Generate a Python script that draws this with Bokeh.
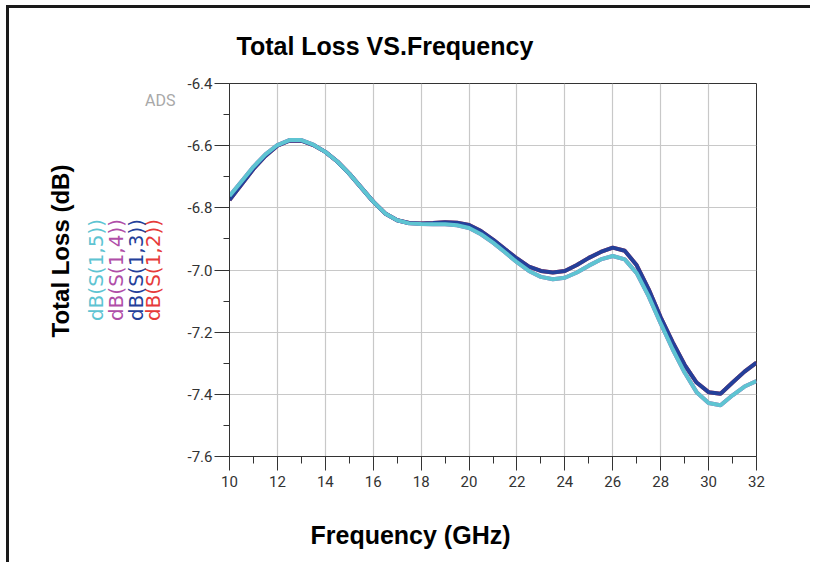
from bokeh.plotting import figure
from bokeh.models import (Range1d, FixedTicker, NumeralTickFormatter, LinearAxis, Title,
                          CustomJSTickFormatter)
from bokeh.embed import file_html
from bokeh.resources import INLINE

freq = [10.0, 10.5, 11.0, 11.5, 12.0, 12.5, 13.0, 13.5, 14.0, 14.5, 15.0, 15.5,
        16.0, 16.5, 17.0, 17.5, 18.0, 18.5, 19.0, 19.5, 20.0, 20.5, 21.0, 21.5,
        22.0, 22.5, 23.0, 23.5, 24.0, 24.5, 25.0, 25.5, 26.0, 26.5, 27.0, 27.5,
        28.0, 28.5, 29.0, 29.5, 30.0, 30.5, 31.0, 31.5, 32.0]

s15 = [-6.762, -6.715, -6.668, -6.628, -6.598, -6.582, -6.582, -6.597, -6.620, -6.651,
       -6.690, -6.735, -6.780, -6.818, -6.840, -6.850, -6.852, -6.853, -6.853, -6.856,
       -6.865, -6.885, -6.912, -6.943, -6.975, -7.003, -7.022, -7.030, -7.025, -7.008,
       -6.986, -6.966, -6.955, -6.966, -7.010, -7.085, -7.172, -7.255, -7.330, -7.393,
       -7.428, -7.435, -7.403, -7.375, -7.357]
s14 = list(s15)
s13 = [-6.775, -6.725, -6.675, -6.633, -6.600, -6.584, -6.584, -6.598, -6.620, -6.651,
       -6.690, -6.735, -6.780, -6.818, -6.840, -6.849, -6.850, -6.849, -6.846, -6.848,
       -6.855, -6.875, -6.902, -6.933, -6.963, -6.989, -7.003, -7.008, -7.003, -6.984,
       -6.961, -6.942, -6.928, -6.938, -6.985, -7.062, -7.152, -7.232, -7.305, -7.362,
       -7.393, -7.398, -7.362, -7.327, -7.298]
s12 = list(s13)

x_ticks = [10, 12, 14, 16, 18, 20, 22, 24, 26, 28, 30, 32]
x_minor = [11, 13, 15, 17, 19, 21, 23, 25, 27, 29, 31]
y_ticks = [-7.6, -7.4, -7.2, -7.0, -6.8, -6.6, -6.4]
y_minor = [-7.5, -7.3, -7.1, -6.9, -6.7, -6.5]

series_names = ["dB(S(1,5))", "dB(S(1,4))", "dB(S(1,3))", "dB(S(1,2))"]
series_colors = ["#5ec4d2", "#b04ea8", "#24409a", "#e63a3a"]

title_text = "Total Loss VS.Frequency"
xlabel_text = "Frequency (GHz)"
ylabel_text = "Total Loss (dB)"
watermark_text = "ADS"
watermark_pos = [-6.455]

W, H = 804, 557
p = figure(width=W, height=H, output_backend="svg", toolbar_location=None,
           x_range=Range1d(10, 32), y_range=Range1d(-7.6, -6.4),
           min_border_left=220, min_border_right=57, min_border_top=75, min_border_bottom=109)
p.styles = {"border-top": "3px solid #1a1a1a", "border-left": "3px solid #1a1a1a",
            "margin-left": "6px", "margin-top": "5px"}

p.background_fill_color = "white"
p.border_fill_color = "white"
p.outline_line_color = "#333333"
p.outline_line_width = 1

tick_font = "Roboto"
for ax in (p.xaxis[0], p.yaxis[0]):
    ax.axis_line_color = "#333333"
    ax.major_tick_line_color = "#333333"
    ax.minor_tick_line_color = "#333333"
    ax.major_label_text_font = tick_font
    ax.major_label_text_font_size = "15px"
    ax.major_label_text_color = "#333333"
    ax.minor_tick_in = 0
    ax.major_tick_in = 0

p.xaxis.ticker = FixedTicker(ticks=x_ticks, minor_ticks=x_minor)
p.yaxis.ticker = FixedTicker(ticks=y_ticks, minor_ticks=y_minor)
p.yaxis.formatter = NumeralTickFormatter(format="0.0")
p.xaxis.major_tick_out = 14
p.xaxis.minor_tick_out = 7
p.yaxis.major_tick_out = 15
p.yaxis.minor_tick_out = 6
p.xaxis.major_label_standoff = 5
p.yaxis.major_label_standoff = 2

p.grid.grid_line_color = "#c8c8c8"
p.grid.grid_line_width = 1.2

# hidden series first, visible on top
p.line(freq, s12, line_color=series_colors[3], line_width=4)
p.line(freq, s14, line_color=series_colors[1], line_width=4)
p.line(freq, s13, line_color=series_colors[2], line_width=4)
p.line(freq, s15, line_color=series_colors[0], line_width=4)


def bare_axis(ticks, label, color, label_standoff):
    ax = LinearAxis(ticker=FixedTicker(ticks=ticks, minor_ticks=[]),
                    axis_line_color=None, major_tick_line_color=None,
                    minor_tick_line_color=None, major_tick_out=0, minor_tick_out=0,
                    major_tick_in=0, minor_tick_in=0)
    ax.axis_label = label
    ax.axis_label_text_color = color
    ax.axis_label_text_font = "DejaVu Sans"
    ax.axis_label_text_font_size = "20px"
    ax.axis_label_text_font_style = "normal"
    ax.axis_label_standoff = label_standoff
    return ax


# series labels, nearest the axis first: (1,2), (1,3), (1,4), (1,5)
a1 = bare_axis(watermark_pos, series_names[3], series_colors[3], -23)
a1.formatter = CustomJSTickFormatter(code="return '%s';" % watermark_text)
a1.major_label_text_font = tick_font
a1.major_label_text_font_size = "16px"
a1.major_label_text_color = "#a8a8a8"
a1.major_label_standoff = 9
p.add_layout(a1, "left")

a2 = bare_axis([], series_names[2], series_colors[2], -9)
a2.major_label_standoff = 0
p.add_layout(a2, "left")
a3 = bare_axis([], series_names[1], series_colors[1], -7)
a3.major_label_standoff = 0
p.add_layout(a3, "left")
a4 = bare_axis([], series_names[0], series_colors[0], -7)
a4.major_label_standoff = 0
p.add_layout(a4, "left")

p.add_layout(Title(text=ylabel_text, text_font="Liberation Sans", text_font_style="bold",
                   text_font_size="24px", text_color="black", align="left", offset=119,
                   vertical_align="middle", standoff=11), "left")

# main title
p.title.text = title_text
p.title.text_font = "Liberation Sans"
p.title.text_font_style = "bold"
p.title.text_font_size = "25px"
p.title.text_color = "black"
p.title.align = "left"
p.title.offset = 7
p.title.vertical_align = "top"
p.title.standoff = 44

# spacer below the x axis (one invisible tick), then the x label
spacer = LinearAxis(ticker=FixedTicker(ticks=[21], minor_ticks=[]), axis_line_color=None,
                    major_tick_line_color=None, minor_tick_line_color=None,
                    major_tick_out=22, minor_tick_out=0, major_tick_in=0, minor_tick_in=0,
                    major_label_standoff=0, major_label_text_font_size="0px",
                    formatter=CustomJSTickFormatter(code="return '';"))
p.add_layout(spacer, "below")
p.add_layout(Title(text=xlabel_text, text_font="Liberation Sans", text_font_style="bold",
                   text_font_size="25px", text_color="black", align="left", offset=81,
                   vertical_align="top", standoff=18), "below")

open("out.html", "w").write(file_html(p, INLINE))
